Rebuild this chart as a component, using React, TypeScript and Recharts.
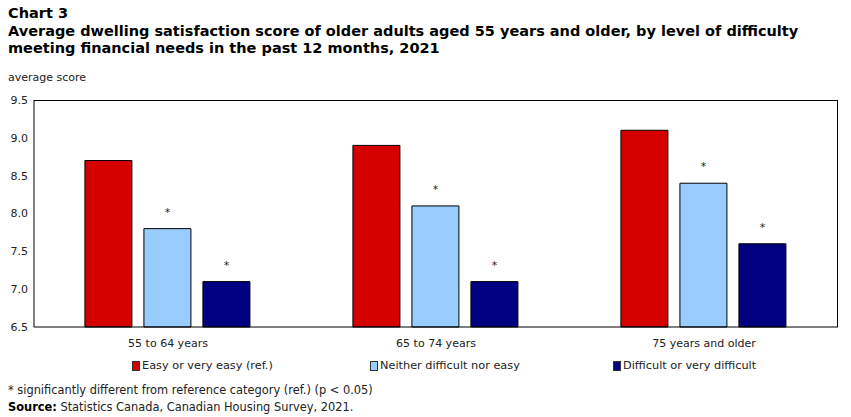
import React from "react";
import { BarChart, Bar, XAxis, YAxis, LabelList } from "recharts";

const ageGroups = ["55 to 64 years", "65 to 74 years", "75 years and older"];
const easyScores = [8.7, 8.9, 9.1];
const neitherScores = [7.8, 8.1, 8.4];
const difficultScores = [7.1, 7.1, 7.6];
// significance markers versus the reference category
const neitherSignificant = [true, true, true];
const difficultSignificant = [true, true, true];
const yTicks = [6.5, 7.0, 7.5, 8.0, 8.5, 9.0, 9.5];

const seriesNames = [
  "Easy or very easy (ref.)",
  "Neither difficult nor easy",
  "Difficult or very difficult",
];
const colors = ["#D50000", "#99CCFF", "#000080"];

const data = ageGroups.map((group, i) => ({
  group,
  easy: easyScores[i],
  neither: neitherScores[i],
  difficult: difficultScores[i],
}));

const font = '"DejaVu Sans", Verdana, sans-serif';

const starLabel = (flags: boolean[]) => (props: any) => {
  const { x, y, width, index } = props;
  if (!flags[index]) return null;
  return (
    <text
      x={Number(x) + Number(width) / 2}
      y={Number(y) - 13}
      textAnchor="middle"
      fontSize={11}
      fontFamily={font}
      fill="#222"
    >
      *
    </text>
  );
};

const legendX = [132, 370, 613];

// plot box, drawn as a frame around the bars
const plot = { left: 34, top: 100, right: 838, bottom: 327 };

export default function App() {
  return (
    <div style={{ position: "relative", width: 851, height: 417, background: "#fff", overflow: "hidden" }}>
      <style>{`body{margin:0}`}</style>
      <div
        style={{
          position: "absolute",
          left: 8,
          top: 5,
          fontFamily: font,
          fontWeight: "bold",
          fontSize: 14.5,
          lineHeight: "17px",
          color: "#000",
          whiteSpace: "nowrap",
        }}
      >
        <div style={{ marginBottom: 1 }}>Chart 3</div>
        <div>
          Average dwelling satisfaction score of older adults aged 55 years and older, by level of difficulty
        </div>
        <div>meeting financial needs in the past 12 months, 2021</div>
      </div>
      <div style={{ position: "absolute", left: 8, top: 71, fontFamily: font, fontSize: 11, color: "#222" }}>
        average score
      </div>

      <div style={{ position: "absolute", left: 0, top: 0 }}>
        <BarChart
          width={851}
          height={417}
          data={data}
          margin={{ top: plot.top, right: 851 - plot.right, bottom: 60, left: 0 }}
          barCategoryGap="19%"
          barGap={12}
        >
          <XAxis
            dataKey="group"
            height={30}
            axisLine={{ stroke: "#000" }}
            tickLine={false}
            tickMargin={6}
            tick={{ fontSize: 11, fill: "#222", fontFamily: font }}
          />
          <YAxis
            domain={[6.5, 9.5]}
            ticks={yTicks}
            width={plot.left}
            axisLine={{ stroke: "#000" }}
            tickLine={false}
            tickSize={4}
            tickMargin={2}
            tickFormatter={(v: number) => v.toFixed(1)}
            tick={{ fontSize: 11, fill: "#222", fontFamily: font }}
          />
          <Bar dataKey="easy" fill={colors[0]} stroke="#000" strokeWidth={1} isAnimationActive={false} />
          <Bar dataKey="neither" fill={colors[1]} stroke="#000" strokeWidth={1} isAnimationActive={false}>
            <LabelList dataKey="neither" content={starLabel(neitherSignificant)} />
          </Bar>
          <Bar dataKey="difficult" fill={colors[2]} stroke="#000" strokeWidth={1} isAnimationActive={false}>
            <LabelList dataKey="difficult" content={starLabel(difficultSignificant)} />
          </Bar>
        </BarChart>
      </div>

      <div
        style={{
          position: "absolute",
          left: plot.left,
          top: plot.top,
          width: plot.right - plot.left - 1,
          height: plot.bottom - plot.top - 1,
          borderTop: "1px solid #000",
          borderRight: "1px solid #000",
          pointerEvents: "none",
        }}
      />

      {seriesNames.map((name, i) => (
        <div
          key={name}
          style={{
            position: "absolute",
            left: legendX[i],
            top: 359,
            display: "flex",
            alignItems: "center",
            fontFamily: font,
            fontSize: 11.3,
            lineHeight: "14px",
            color: "#222",
            whiteSpace: "nowrap",
          }}
        >
          <span
            style={{
              display: "inline-block",
              width: 6,
              height: 8,
              background: colors[i],
              border: "1px solid #333",
              marginRight: 2,
            }}
          />
          {name}
        </div>
      ))}

      <div style={{ position: "absolute", left: 8, top: 382, fontFamily: font, fontSize: 11.4, color: "#222", lineHeight: "17px" }}>
        <div>* significantly different from reference category (ref.) (p &lt; 0.05)</div>
        <div>
          <b style={{ color: "#000" }}>Source:</b> Statistics Canada, Canadian Housing Survey, 2021.
        </div>
      </div>
    </div>
  );
}
